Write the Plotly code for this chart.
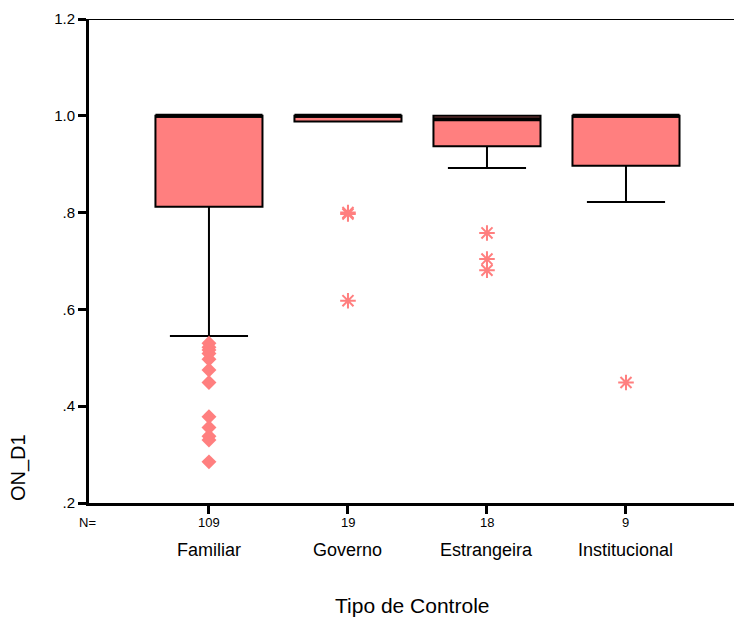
import plotly.graph_objects as go

# ---- data ----
categories = ["Familiar", "Governo", "Estrangeira", "Institucional"]
n_counts = [109, 19, 18, 9]
q1 = [0.812, 0.988, 0.937, 0.897]
median = [1.0, 1.0, 0.993, 1.0]
q3 = [1.0, 1.0, 1.0, 1.0]
lower_whisker = [0.545, 0.988, 0.892, 0.822]
upper_whisker = [1.0, 1.0, 1.0, 1.0]

# outliers per category (diamonds for Familiar, asterisks for the others)
out_familiar = [0.530, 0.522, 0.516, 0.509, 0.497, 0.475, 0.449, 0.378, 0.356, 0.338, 0.330, 0.285]
out_governo = [0.800, 0.797, 0.618]
out_estrangeira = [0.758, 0.704, 0.681]
out_institucional = [0.449]

y_ticks = [0.2, 0.4, 0.6, 0.8, 1.0, 1.2]
y_ticktext = [".2", ".4", ".6", ".8", "1.0", "1.2"]

# ---- style ----
FILL = "#FF7F7F"
FONT = "Liberation Sans, Arial, sans-serif"
BOX_W = 0.77
positions = [i + 1 for i in range(len(categories))]

fig = go.Figure()
fig.add_trace(go.Box(
    x=positions, q1=q1, median=median, q3=q3,
    lowerfence=lower_whisker, upperfence=upper_whisker,
    fillcolor=FILL, line=dict(color="black", width=2),
    width=BOX_W, whiskerwidth=0.73, boxpoints=False,
    showlegend=False, hoverinfo="skip",
))

# thick median lines
shapes = []
for p, m in zip(positions, median):
    shapes.append(dict(type="line", xref="x", yref="y",
                       x0=p - BOX_W / 2, x1=p + BOX_W / 2, y0=m, y1=m,
                       line=dict(color="black", width=4)))
# top frame line
shapes.append(dict(type="line", xref="paper", yref="y", x0=0, x1=1,
                   y0=y_ticks[-1], y1=y_ticks[-1], line=dict(color="black", width=2)))

fig.add_trace(go.Scatter(
    x=[positions[0]] * len(out_familiar), y=out_familiar, mode="markers",
    marker=dict(symbol="diamond", size=11.5, color=FILL, line=dict(width=0)),
    showlegend=False, hoverinfo="skip", cliponaxis=False))

for p, vals in zip(positions[1:], [out_governo, out_estrangeira, out_institucional]):
    fig.add_trace(go.Scatter(
        x=[p] * len(vals), y=vals, mode="markers",
        marker=dict(symbol="asterisk-open", size=13, color=FILL,
                    line=dict(color=FILL, width=2)),
        showlegend=False, hoverinfo="skip", cliponaxis=False))

annotations = []
for p, n, c in zip(positions, n_counts, categories):
    annotations.append(dict(x=p, xref="x", y=-0.0413, yref="paper", text=str(n),
                            showarrow=False, font=dict(size=13, family=FONT, color="black"),
                            yanchor="middle"))
    annotations.append(dict(x=p, xref="x", y=-0.097, yref="paper", text=c,
                            showarrow=False, font=dict(size=18, family=FONT, color="black"),
                            yanchor="middle"))
annotations.append(dict(x=-0.003, xref="paper", y=-0.0413, yref="paper", text="N=",
                        showarrow=False, font=dict(size=13, family=FONT, color="black"),
                        xanchor="center", yanchor="middle"))
annotations.append(dict(x=0.5, xref="paper", y=-0.212, yref="paper", text="Tipo de Controle",
                        showarrow=False, font=dict(size=21, family=FONT, color="black"),
                        yanchor="middle"))
annotations.append(dict(x=-0.110, xref="paper", y=0.0723, yref="paper", text="ON_D1",
                        textangle=-90, showarrow=False,
                        font=dict(size=20, family=FONT, color="black"),
                        xanchor="center", yanchor="middle"))

fig.update_layout(
    width=734, height=618,
    margin=dict(l=89, r=0, t=19, b=115),
    paper_bgcolor="white", plot_bgcolor="white",
    shapes=shapes, annotations=annotations,
    xaxis=dict(range=[0.137, 4.777], tickvals=positions, showticklabels=False,
               ticks="outside", ticklen=8, tickwidth=3, tickcolor="black",
               showline=True, linecolor="black", linewidth=3,
               showgrid=False, zeroline=False),
    yaxis=dict(range=[y_ticks[0], y_ticks[-1]], tickvals=y_ticks, ticktext=y_ticktext,
               ticks="outside", ticklen=8, tickwidth=3, tickcolor="black",
               tickfont=dict(size=15, family=FONT, color="black"),
               showline=True, linecolor="black", linewidth=3,
               showgrid=False, zeroline=False),
)

fig.write_html("out.html")
